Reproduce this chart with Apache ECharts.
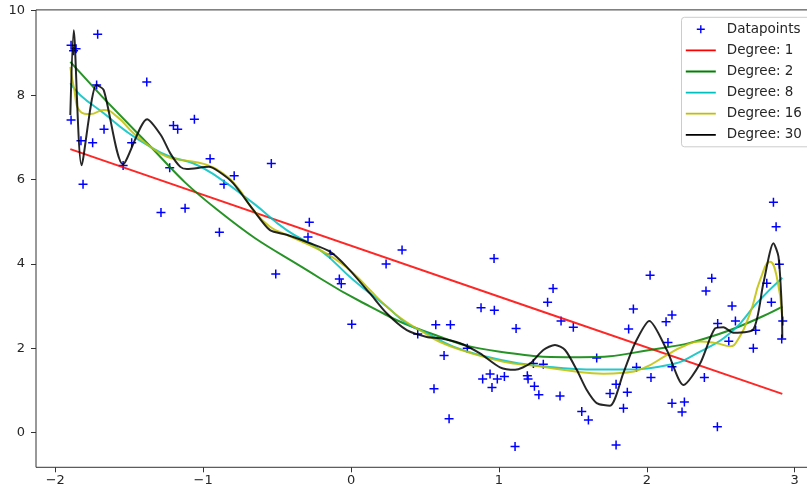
<!DOCTYPE html>
<html>
<head>
<meta charset="utf-8">
<script src="https://cdn.jsdelivr.net/npm/echarts@6/dist/echarts.min.js"></script>
<style>
  html, body { margin: 0; padding: 0; background: #ffffff; }
  #chart { width: 807px; height: 492px; }
</style>
</head>
<body>
<div id="chart"></div>
<script>
// Noisy samples and polynomial fits of increasing degree.

// Scattered data points [x, y]
const datapoints = [
  [-1.893, 9.18], [-1.859, 9.10], [-1.876, 9.05], [-1.713, 9.44], [-1.893, 7.41],
  [-1.826, 6.92], [-1.747, 6.87], [-1.812, 5.89], [-1.720, 8.24], [-1.670, 7.19],
  [-1.541, 6.33], [-1.483, 6.87], [-1.381, 8.31], [-1.201, 7.28], [-1.172, 7.19],
  [-1.226, 6.28], [-1.059, 7.43], [-1.285, 5.22], [-1.122, 5.32], [-0.953, 6.49],
  [-0.859, 5.89], [-0.790, 6.09], [-0.890, 4.75], [-0.539, 6.38], [-0.282, 4.99],
  [-0.291, 4.64], [0.345, 4.33], [-0.509, 3.76], [-0.142, 4.23], [-0.079, 3.64],
  [-0.066, 3.53], [0.005, 2.57], [0.237, 4.00], [0.967, 4.13], [0.879, 2.96],
  [0.969, 2.90], [1.116, 2.47], [0.573, 2.56], [0.672, 2.56], [0.451, 2.34],
  [0.629, 1.83], [0.786, 2.00], [0.561, 1.04], [0.663, 0.33], [0.890, 1.27],
  [0.940, 1.39], [0.953, 1.07], [0.989, 1.27], [1.037, 1.33], [1.109, -0.33],
  [1.192, 1.35], [1.197, 1.27], [1.240, 1.10], [1.270, 0.90], [1.233, 1.64],
  [1.300, 1.62], [1.329, 3.09], [1.366, 3.42], [1.420, 2.65], [1.503, 2.50],
  [1.413, 0.87], [1.560, 0.50], [1.605, 0.30], [1.661, 1.77], [1.792, -0.29],
  [1.792, 1.15], [1.751, 0.93], [1.842, 0.58], [1.868, 0.96], [1.877, 2.46],
  [1.909, 2.93], [1.930, 1.55], [2.022, 3.73], [2.028, 1.31], [2.130, 2.63],
  [2.170, 2.79], [2.143, 2.14], [2.170, 1.56], [2.170, 0.70], [2.254, 0.73],
  [2.238, 0.49], [2.389, 1.31], [2.400, 3.36], [2.439, 3.66], [2.479, 2.59],
  [2.477, 0.14], [2.554, 2.17], [2.576, 3.00], [2.599, 2.65], [2.720, 2.00],
  [2.736, 2.43], [2.811, 3.54], [2.842, 3.09], [2.896, 3.99], [2.919, 2.65],
  [2.912, 2.22], [2.856, 5.46], [2.874, 4.88]
];

// Fitted curves [x, y]
const fitDeg1 = [[-1.898, 6.72], [1.278, 2.89], [2.916, 0.92]];

const fitDeg2 = [
  [-1.898, 8.79], [-1.45, 7.12], [-0.9, 5.27], [-0.21, 3.66], [0.13, 2.99],
  [0.47, 2.44], [1.007, 1.92], [1.55, 1.79], [2.02, 1.96], [2.473, 2.32], [2.916, 2.99]
];

const fitDeg8 = [
  [-1.898, 8.28], [-1.830, 8.00], [-1.672, 7.57], [-1.515, 7.13], [-1.379, 6.82],
  [-1.222, 6.54], [-1.064, 6.38], [-0.906, 6.07], [-0.661, 5.44], [-0.435, 4.80],
  [-0.210, 4.33], [0.016, 3.62], [0.241, 2.99], [0.377, 2.59], [0.512, 2.36],
  [0.692, 2.04], [0.918, 1.80], [1.143, 1.64], [1.368, 1.55], [1.594, 1.50],
  [1.819, 1.50], [2.135, 1.60], [2.360, 1.92], [2.585, 2.43], [2.743, 3.07], [2.916, 3.67]
];

const fitDeg16 = [
  [-1.898, 8.67], [-1.875, 8.20], [-1.830, 7.61], [-1.763, 7.55], [-1.672, 7.65],
  [-1.582, 7.49], [-1.469, 7.09], [-1.357, 6.78], [-1.244, 6.54], [-1.131, 6.46],
  [-0.996, 6.37], [-0.884, 6.19], [-0.771, 5.83], [-0.661, 5.28], [-0.548, 4.88],
  [-0.435, 4.69], [-0.210, 4.33], [-0.097, 4.09], [0.016, 3.78], [0.128, 3.38],
  [0.241, 2.99], [0.354, 2.67], [0.480, 2.40], [0.602, 2.15], [0.782, 1.92],
  [1.030, 1.68], [1.256, 1.58], [1.481, 1.47], [1.706, 1.40], [1.841, 1.42],
  [1.977, 1.53], [2.135, 1.84], [2.248, 2.05], [2.360, 2.16], [2.473, 2.12],
  [2.563, 2.05], [2.608, 2.16], [2.698, 2.83], [2.766, 3.62], [2.833, 4.05],
  [2.878, 3.70], [2.916, 2.75]
];

const fitDeg30 = [
  [-1.898, 7.53], [-1.875, 9.54], [-1.822, 6.34], [-1.722, 8.24], [-1.672, 8.12],
  [-1.542, 6.36], [-1.379, 7.43], [-1.285, 7.05], [-1.222, 6.62], [-1.154, 6.30],
  [-1.109, 6.25], [-0.962, 6.30], [-0.895, 6.19], [-0.796, 5.91], [-0.661, 5.28],
  [-0.548, 4.80], [-0.435, 4.69], [-0.277, 4.49], [-0.142, 4.29], [-0.029, 3.93],
  [0.128, 3.30], [0.241, 2.83], [0.377, 2.43], [0.512, 2.27], [0.602, 2.24],
  [0.737, 2.12], [0.872, 1.88], [1.007, 1.55], [1.109, 1.49], [1.210, 1.64],
  [1.300, 1.96], [1.379, 2.08], [1.447, 1.96], [1.526, 1.49], [1.594, 1.01],
  [1.661, 0.70], [1.751, 0.64], [1.841, 1.41], [1.920, 2.12], [2.017, 2.65],
  [2.135, 1.96], [2.248, 1.13], [2.360, 1.64], [2.461, 2.47], [2.518, 2.50],
  [2.585, 2.37], [2.720, 2.45], [2.788, 3.54], [2.856, 4.49], [2.890, 4.17],
  [2.912, 2.99], [2.916, 2.24]
];

// Axis ticks
const xTicks = [-2, -1, 0, 1, 2, 3];
const yTicks = [0, 2, 4, 6, 8, 10];

const seriesNames = ['Datapoints', 'Degree: 1', 'Degree: 2', 'Degree: 8', 'Degree: 16', 'Degree: 30'];
const lineColors = ['#ff0000', '#008000', '#00bfbf', '#bfbf00', '#000000'];

// Marker and legend glyph shapes
const plusSymbol = 'path://M37.5,0 H52.5 V37.5 H90 V52.5 H52.5 V90 H37.5 V52.5 H0 V37.5 H37.5 Z';
const legendPlus = 'path://M0,0 L0,0 Z M36,14 L36,14 Z M14.3,3 H15.7 V6.3 H19 V7.7 H15.7 V11 H14.3 V7.7 H11 V6.3 H14.3 Z';
const legendLine = 'path://M0,0 L0,0 Z M36,14 L36,14 Z M0,6.1 H30 V7.9 H0 Z';

const fmt = v => (v < 0 ? '\u2212' + Math.abs(v) : String(v));
const font = 'DejaVu Sans';

const chart = echarts.init(document.getElementById('chart'), null, { renderer: 'canvas' });

const fits = [fitDeg1, fitDeg2, fitDeg8, fitDeg16, fitDeg30];

chart.setOption({
  animation: false,
  backgroundColor: '#ffffff',
  grid: {
    left: 36,
    right: -11.4,
    top: 9.9,
    bottom: 24.7,
    show: true,
    borderColor: '#333333',
    borderWidth: 1,
    backgroundColor: 'transparent',
    containLabel: false,
    outerBoundsMode: 'none'
  },
  xAxis: {
    type: 'value',
    min: -2.13,
    max: 3.16,
    position: 'bottom',
    axisLine: { show: false, onZero: false },
    splitLine: { show: false },
    axisTick: { show: true, length: 5, inside: false, customValues: xTicks, lineStyle: { color: '#333333', width: 1 } },
    axisLabel: { customValues: xTicks, formatter: fmt, margin: 7, fontFamily: font, fontSize: 13, color: '#262626' }
  },
  yAxis: {
    type: 'value',
    min: -0.82,
    max: 10.02,
    position: 'left',
    axisLine: { show: false, onZero: false },
    splitLine: { show: false },
    axisTick: { show: true, length: 5, inside: false, customValues: yTicks, lineStyle: { color: '#333333', width: 1 } },
    axisLabel: { customValues: yTicks, formatter: fmt, margin: 11, fontFamily: font, fontSize: 13, color: '#262626' }
  },
  legend: {
    orient: 'vertical',
    left: 681.5,
    top: 17.3,
    itemWidth: 36,
    itemHeight: 14,
    itemGap: 7.1,
    padding: [5, 30, 5, 4.3],
    backgroundColor: 'rgba(255,255,255,0.8)',
    borderColor: '#cccccc',
    borderWidth: 1,
    borderRadius: 3,
    textStyle: { fontFamily: font, fontSize: 13.5, color: '#262626', width: 110 },
    data: seriesNames.map((n, i) => ({ name: n, icon: i === 0 ? legendPlus : legendLine }))
  },
  series: [
    {
      name: seriesNames[0],
      type: 'scatter',
      data: datapoints,
      symbol: plusSymbol,
      symbolSize: 9,
      itemStyle: { color: '#0000ff', opacity: 1 }
    }
  ].concat(fits.map((d, i) => ({
    name: seriesNames[i + 1],
    type: 'line',
    data: d,
    showSymbol: false,
    symbol: 'none',
    smooth: i === 4 ? 0.25 : 0.5,
    clip: true,
    itemStyle: { color: lineColors[i] },
    lineStyle: { color: lineColors[i], width: 2, opacity: 0.85 }
  })))
});
</script>
</body>
</html>
